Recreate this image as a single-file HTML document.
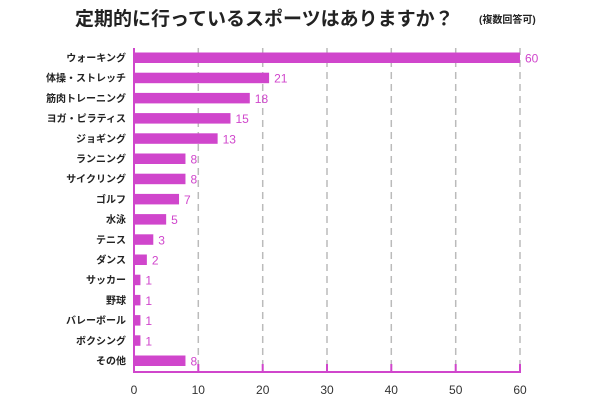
<!DOCTYPE html><html><head><meta charset="utf-8"><style>
body{margin:0;background:#fff;width:600px;height:400px;overflow:hidden}
text{font-family:"Liberation Sans","Noto Sans CJK JP",sans-serif}
</style></head><body>
<svg width="600" height="400" xmlns="http://www.w3.org/2000/svg">
<text x="75" y="25" font-size="19" font-weight="bold" fill="#222">定期的に行っているスポーツはありますか？</text>
<text x="479" y="23" font-size="10" font-weight="bold" fill="#222">(複数回答可)</text>
<g stroke="#bbb" stroke-width="1.5" stroke-dasharray="7,5">
<line x1="198.3" y1="48" x2="198.3" y2="371"/><line x1="262.7" y1="48" x2="262.7" y2="371"/><line x1="327" y1="48" x2="327" y2="371"/><line x1="391.3" y1="48" x2="391.3" y2="371"/><line x1="455.7" y1="48" x2="455.7" y2="371"/><line x1="520" y1="48" x2="520" y2="371"/>
</g>
<g fill="#d046cc" id="bars"></g>
<g stroke="#d046cc" stroke-width="2">
<line x1="134" y1="48" x2="134" y2="373"/><line x1="133" y1="372" x2="521" y2="372"/>
<line x1="198.3" y1="364" x2="198.3" y2="372"/><line x1="262.7" y1="364" x2="262.7" y2="372"/><line x1="327" y1="364" x2="327" y2="372"/><line x1="391.3" y1="364" x2="391.3" y2="372"/><line x1="455.7" y1="364" x2="455.7" y2="372"/><line x1="520" y1="364" x2="520" y2="372"/>
</g>
<g font-size="12" fill="#333" text-anchor="middle">
<text x="134" y="394">0</text><text x="198.3" y="394">10</text><text x="262.7" y="394">20</text><text x="327" y="394">30</text><text x="391.3" y="394">40</text><text x="455.7" y="394">50</text><text x="520" y="394">60</text>
</g>
<g id="labels"></g>
<script>
var d=[["ウォーキング",60],["体操・ストレッチ",21],["筋肉トレーニング",18],["ヨガ・ピラティス",15],["ジョギング",13],["ランニング",8],["サイクリング",8],["ゴルフ",7],["水泳",5],["テニス",3],["ダンス",2],["サッカー",1],["野球",1],["バレーボール",1],["ボクシング",1],["その他",8]];
var ns="http://www.w3.org/2000/svg",b=document.getElementById("bars"),l=document.getElementById("labels");
d.forEach(function(r,i){var y=52.5+i*20.2,w=r[1]*6.433;
var re=document.createElementNS(ns,"rect");re.setAttribute("x",134);re.setAttribute("y",y);re.setAttribute("width",w);re.setAttribute("height",10.5);b.appendChild(re);
var t=document.createElementNS(ns,"text");t.setAttribute("x",126);t.setAttribute("y",y+9);t.setAttribute("font-size","10");t.setAttribute("font-weight","bold");t.setAttribute("fill","#222");t.setAttribute("text-anchor","end");t.textContent=r[0];l.appendChild(t);
var v=document.createElementNS(ns,"text");v.setAttribute("x",134+w+5);v.setAttribute("y",y+10);v.setAttribute("font-size","12");v.setAttribute("fill","#d046cc");v.textContent=r[1];l.appendChild(v);});
</script>
</svg></body></html>
